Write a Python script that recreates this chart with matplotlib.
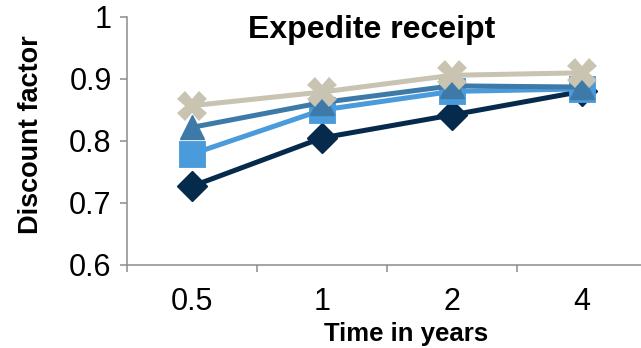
import matplotlib
matplotlib.use("Agg")
import matplotlib.pyplot as plt
import numpy as np

plt.rcParams['font.family'] = ['Liberation Sans', 'DejaVu Sans']

# discount factor by horizon, one series per scenario
horizons = ['0.5', '1', '2', '4']
series_diamond = [0.727, 0.805, 0.842, 0.880]
series_square = [0.779, 0.850, 0.880, 0.884]
series_triangle = [0.822, 0.862, 0.889, 0.887]
series_cross = [0.857, 0.879, 0.906, 0.910]

fig = plt.figure(figsize=(6.41, 3.48), dpi=100)
ax = fig.add_axes([127/641, 83/348, 520/641, 248/348])

x = np.arange(len(horizons))
lw = 3.6
ax.plot(x, series_diamond, color='#062a4b', lw=lw, marker='D', ms=15,
        solid_joinstyle='round', zorder=3)
ax.plot(x, series_square, color='#4a9bdb', lw=lw, marker='s', ms=16,
        mew=3.5, mec='#4a9bdb', zorder=4)
ax.plot(x, series_triangle, color='#3e7aa8', lw=lw, marker='^', ms=17,
        zorder=5)
ax.plot(x, series_cross, color='#c8c4b1', lw=lw, marker='X', ms=21,
        mew=0, zorder=6)

ax.set_xlim(-0.5, 3.5)
ax.set_ylim(0.6, 1.0)
ax.set_yticks([0.6, 0.7, 0.8, 0.9, 1.0])
ax.set_yticklabels(['0.6', '0.7', '0.8', '0.9', '1'])

# boundary ticks between categories, labels centred under each point
ax.set_xticks(np.arange(-0.5, 4, 1.0))
ax.set_xticklabels([])
ax.set_xticks(x, minor=True)
ax.set_xticklabels(horizons, minor=True)
ax.tick_params(axis='x', which='minor', length=0, pad=16, labelsize=22)
ax.tick_params(axis='x', which='major', length=5, width=1.1,
               color='#8c8c8c', direction='out')
ax.tick_params(axis='y', length=5, width=1.1, color='#8c8c8c',
               direction='out', pad=6, labelsize=22)

for side in ['top', 'right']:
    ax.spines[side].set_visible(False)
for side in ['left', 'bottom']:
    ax.spines[side].set_color('#8c8c8c')
    ax.spines[side].set_linewidth(1.1)

fig.text(372/641, 1 - 38/348, 'Expedite receipt', ha='center', va='baseline',
         fontsize=23, fontweight='bold')
fig.text(406/641, 1 - 341/348, 'Time in years', ha='center', va='baseline',
         fontsize=18.5, fontweight='bold')
fig.text(31/641, 1 - 135/348, 'Discount factor', ha='center', va='center',
         rotation=90, fontsize=19.5, fontweight='bold')

fig.savefig('out.png', dpi=100)
